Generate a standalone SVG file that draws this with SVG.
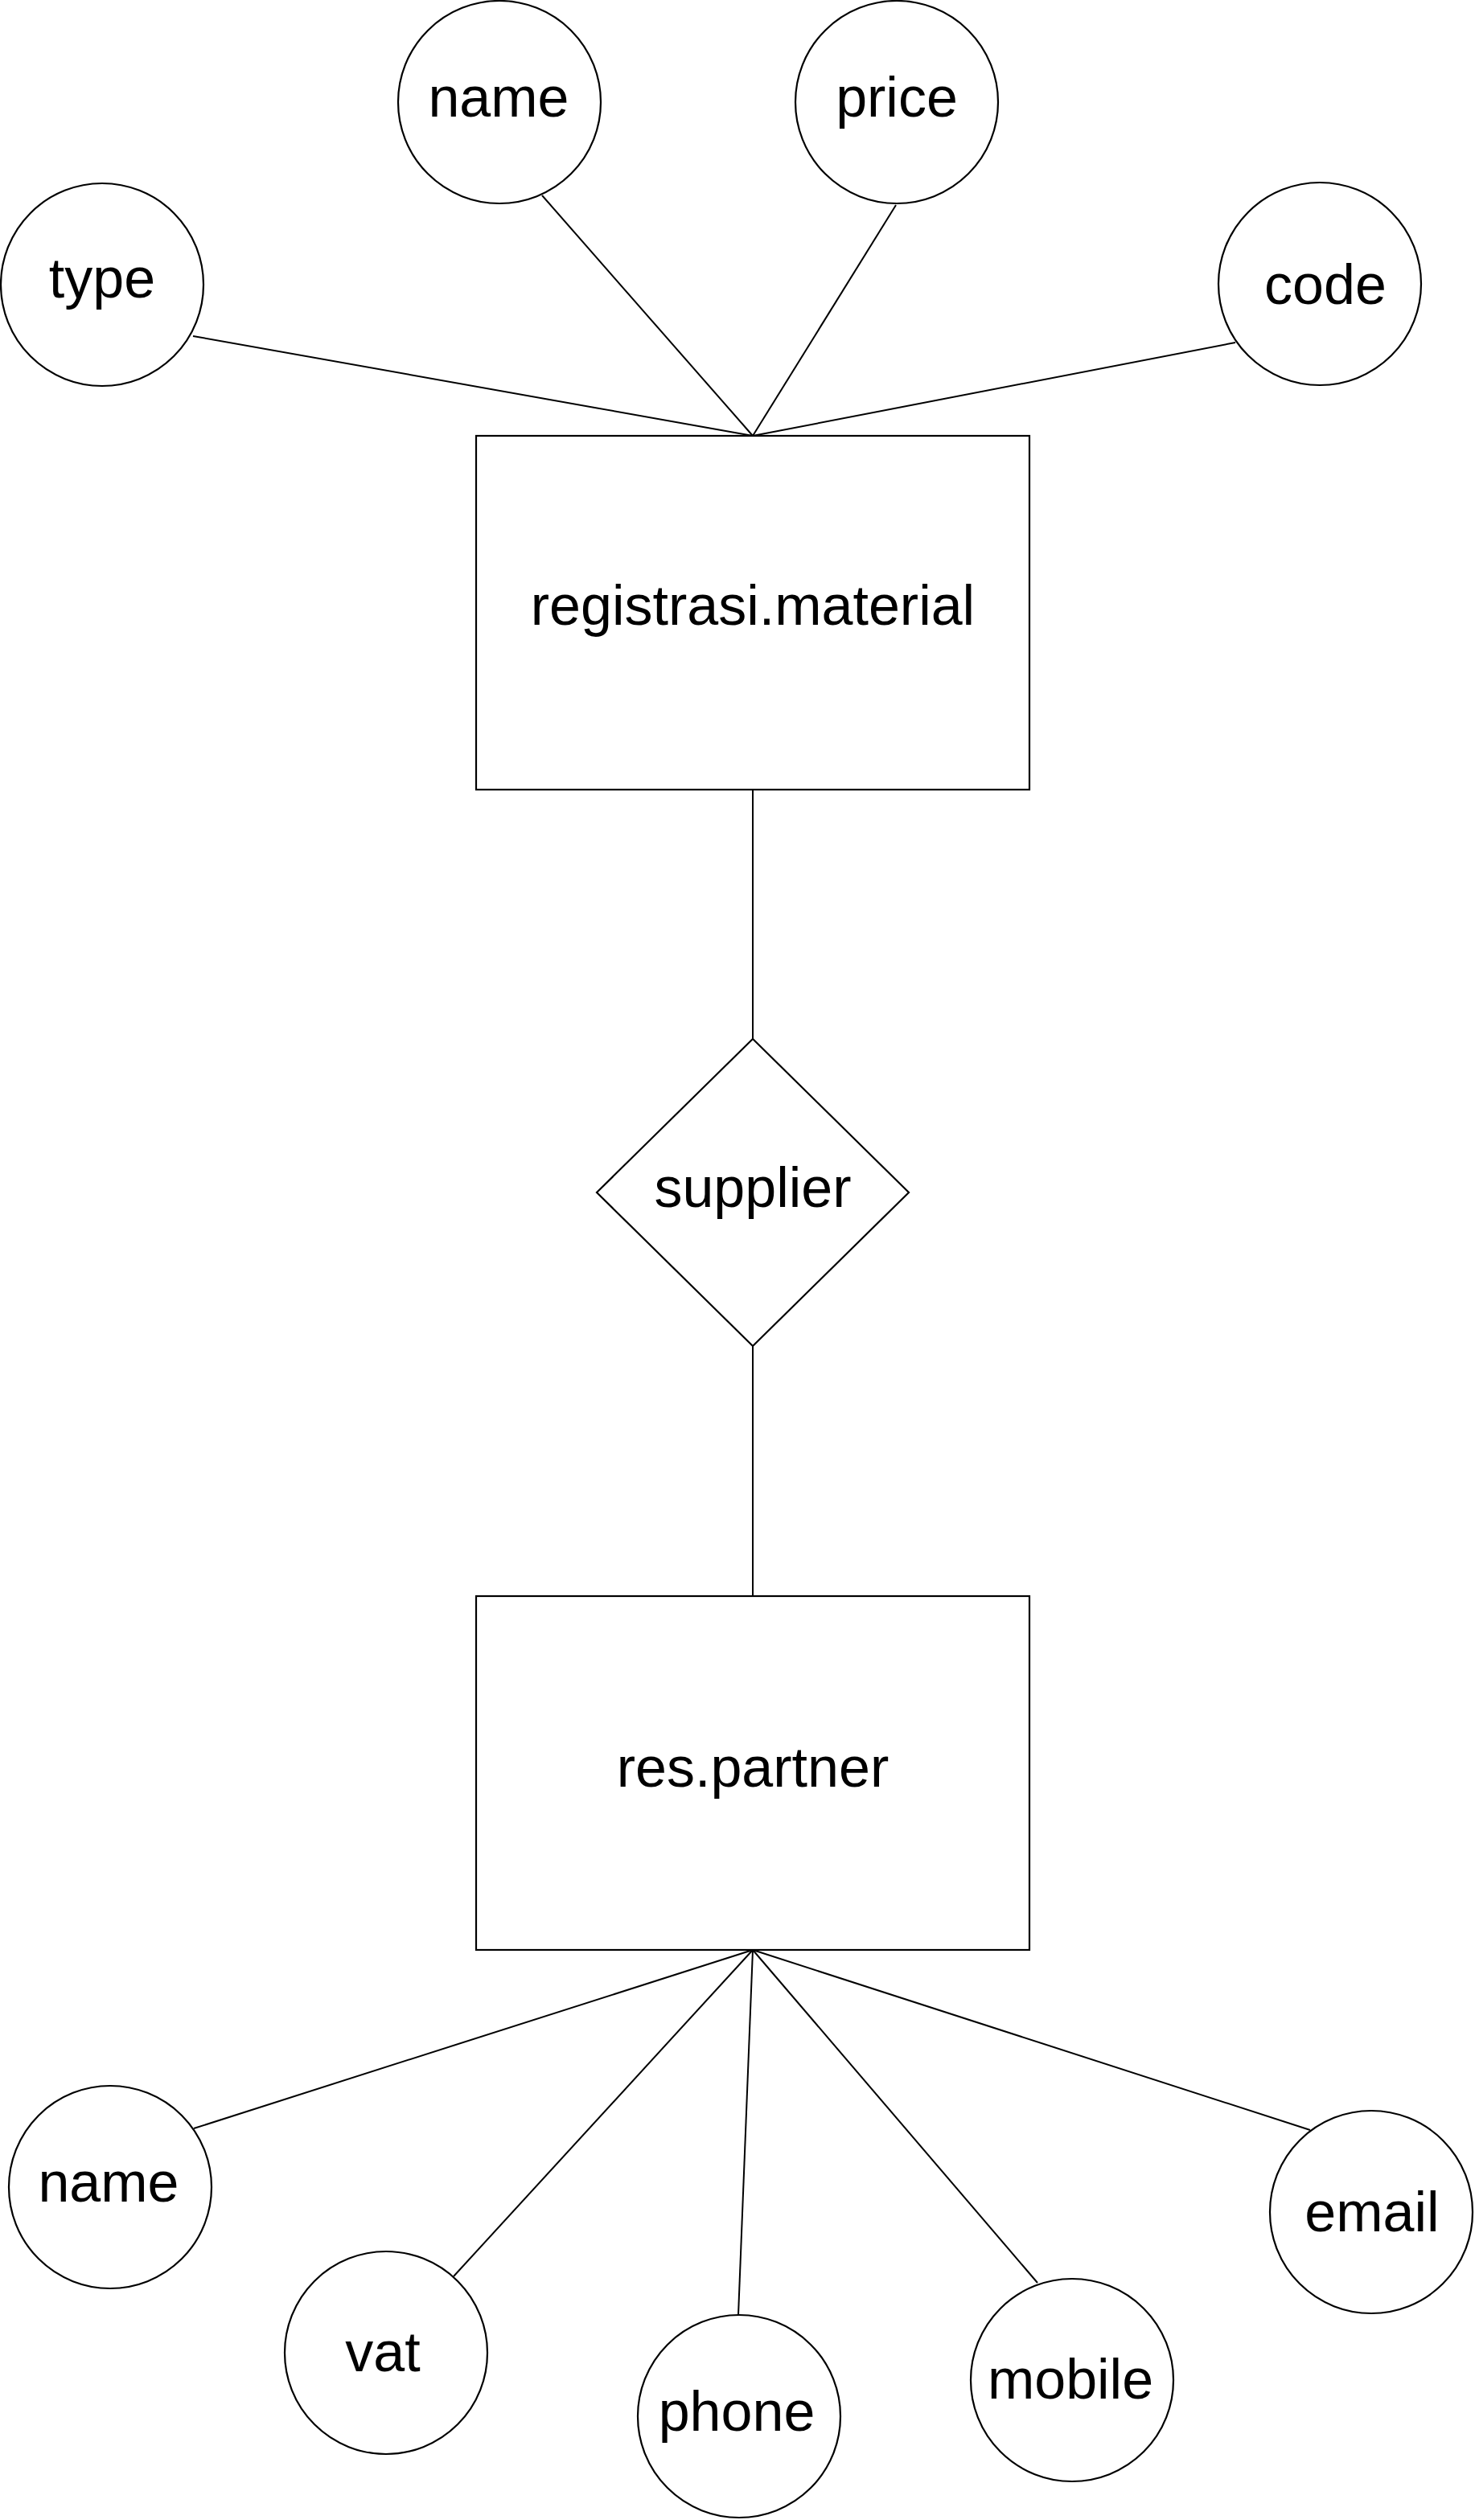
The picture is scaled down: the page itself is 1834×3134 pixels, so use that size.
<svg xmlns="http://www.w3.org/2000/svg" width="1834" height="3134" viewBox="0 0 1834 3134">
<style>
.shape{fill:#ffffff;stroke:#000000;stroke-width:2.2}
.edge{fill:none;stroke:#000000;stroke-width:2}
.lbl{font-family:"Liberation Sans",Arial,sans-serif;font-size:70px;fill:#000000;text-anchor:middle}
</style>
<rect x="0" y="0" width="1834" height="3134" fill="#ffffff"/>
<g id="connectors">
<line class="edge" x1="240" y1="418" x2="936" y2="542"/>
<line class="edge" x1="674" y1="243" x2="936" y2="542"/>
<line class="edge" x1="1114" y1="255" x2="936" y2="542"/>
<line class="edge" x1="1536" y1="426" x2="936" y2="542"/>
<line class="edge" x1="936" y1="982" x2="936" y2="1292"/>
<line class="edge" x1="936" y1="1674" x2="936" y2="1985"/>
<line class="edge" x1="936" y1="2425" x2="241" y2="2647"/>
<line class="edge" x1="936" y1="2425" x2="564" y2="2831"/>
<line class="edge" x1="936" y1="2425" x2="918" y2="2879"/>
<line class="edge" x1="936" y1="2425" x2="1290" y2="2839"/>
<line class="edge" x1="936" y1="2425" x2="1629" y2="2649"/>
</g>
<g id="attr-type"><circle class="shape" cx="127" cy="354" r="126"/><text class="lbl" x="127" y="370">type</text></g>
<g id="attr-name-top"><circle class="shape" cx="621" cy="127" r="126"/><text class="lbl" x="620" y="145">name</text></g>
<g id="attr-price"><circle class="shape" cx="1115" cy="127" r="126"/><text class="lbl" x="1115" y="145">price</text></g>
<g id="attr-code"><circle class="shape" cx="1641" cy="353" r="126"/><text class="lbl" x="1648" y="378">code</text></g>
<g id="entity-registrasi-material"><rect class="shape" x="592" y="542" width="688" height="440"/><text class="lbl" x="936" y="777">registrasi.material</text></g>
<g id="rel-supplier"><polygon class="shape" points="936,1292 1130,1483 936,1674 742,1483"/><text class="lbl" x="936" y="1501">supplier</text></g>
<g id="entity-res-partner"><rect class="shape" x="592" y="1985" width="688" height="440"/><text class="lbl" x="936" y="2222">res.partner</text></g>
<g id="attr-name-bottom"><circle class="shape" cx="137" cy="2720" r="126"/><text class="lbl" x="135" y="2738">name</text></g>
<g id="attr-vat"><circle class="shape" cx="480" cy="2926" r="126"/><text class="lbl" x="476" y="2949">vat</text></g>
<g id="attr-phone"><circle class="shape" cx="919" cy="3005" r="126"/><text class="lbl" x="916" y="3023">phone</text></g>
<g id="attr-mobile"><circle class="shape" cx="1333" cy="2960" r="126"/><text class="lbl" x="1331" y="2983">mobile</text></g>
<g id="attr-email"><circle class="shape" cx="1705" cy="2751" r="126"/><text class="lbl" x="1706" y="2775">email</text></g>
</svg>
